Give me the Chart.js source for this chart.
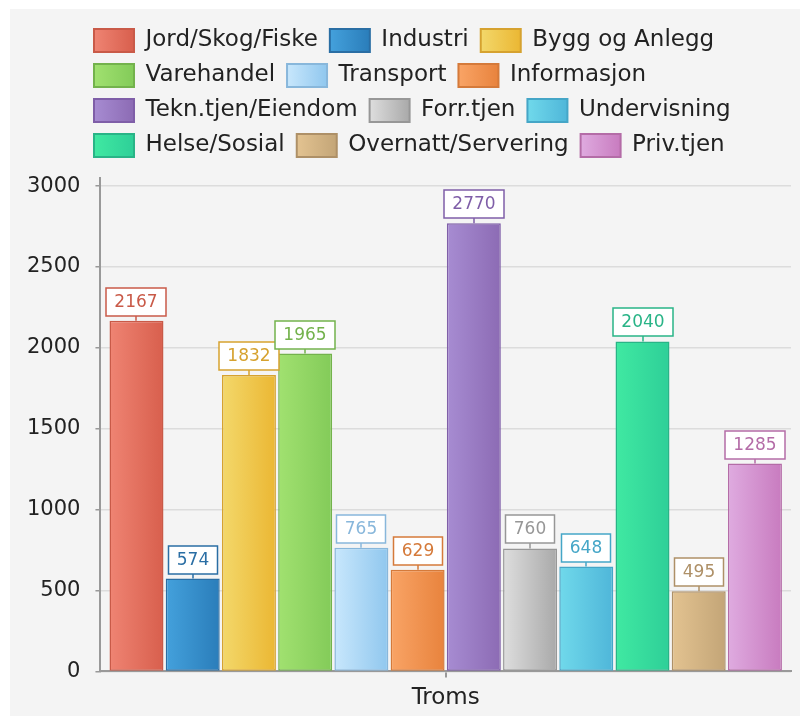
<!DOCTYPE html>
<html><head><meta charset="utf-8">
<script src="https://cdn.jsdelivr.net/npm/chart.js@4/dist/chart.umd.min.js"></script>
<style>
html,body{margin:0;padding:0;background:#fff;width:800px;height:716px;overflow:hidden}
#wrap{position:absolute;left:10px;top:9px;width:790px;height:707px;background:#f4f4f4}
canvas{display:block}
</style></head><body>
<div id="wrap"><canvas id="c" width="790" height="707"></canvas></div>
<script>
const categories = ['Troms'];
const seriesNames = ['Jord/Skog/Fiske', 'Industri', 'Bygg og Anlegg', 'Varehandel', 'Transport', 'Informasjon',
  'Tekn.tjen/Eiendom', 'Forr.tjen', 'Undervisning', 'Helse/Sosial', 'Overnatt/Servering', 'Priv.tjen'];
const seriesValues = [2167, 574, 1832, 1965, 765, 629, 2770, 760, 648, 2040, 495, 1285];
const yTickValues = [0, 500, 1000, 1500, 2000, 2500, 3000];
const colorsLight = ['#ef8473', '#44a1dc', '#f3d86b', '#a1e170', '#c8e7fc', '#f9a466', '#a78cd2', '#dedede', '#70d9eb', '#40e9a2', '#e3c391', '#dfabe0'];
const colorsDark  = ['#d85f4d', '#2a7dba', '#ebb733', '#83cb59', '#90c7ee', '#e8833d', '#8c6bb4', '#a9a9a9', '#4fb6d9', '#2ecf98', '#c3a577', '#c87bbf'];
const borderColors = ['#c95a48', '#2a6ea4', '#d6a22f', '#73b24c', '#88b7db', '#d57a3a', '#7f5ea8', '#979797', '#45a6c7', '#29b487', '#ae9067', '#b46ca7'];

const FONT = '"DejaVu Sans", Verdana, sans-serif';
const LEGEND_SHIFT = 11;

const datasets = seriesNames.map((name, i) => ({
  label: name,
  data: [seriesValues[i]],
  backgroundColor: colorsDark[i],
  borderColor: borderColors[i],
  borderWidth: 1.5,
  borderSkipped: false,
  categoryPercentage: 0.977,
  barPercentage: 0.96
}));

const stylePlugin = {
  id: 'stylePlugin',
  afterLayout(chart) {
    const lg = chart.legend;
    lg.left = 72;
    lg.top -= LEGEND_SHIFT;
    lg.bottom -= LEGEND_SHIFT;
  },
  beforeDraw(chart) {
    const ctx = chart.ctx;
    const lg = chart.legend;
    if (lg && lg.legendItems && lg.legendHitBoxes) {
      lg.legendItems.forEach((it, i) => {
        const hb = lg.legendHitBoxes[i];
        if (!hb) return;
        const di = it.datasetIndex;
        const g = ctx.createLinearGradient(hb.left, 0, hb.left + 40, 0);
        g.addColorStop(0, colorsLight[di]);
        g.addColorStop(1, colorsDark[di]);
        it.fillStyle = g;
        it.strokeStyle = borderColors[di];
        it.lineWidth = 2;
      });
    }
  },
  beforeDatasetsDraw(chart) {
    const ctx = chart.ctx;
    chart.data.datasets.forEach((ds, i) => {
      const meta = chart.getDatasetMeta(i);
      meta.data.forEach(el => {
        const g = ctx.createLinearGradient(el.x - el.width / 2, 0, el.x + el.width / 2, 0);
        g.addColorStop(0, colorsLight[i]);
        g.addColorStop(1, colorsDark[i]);
        el.options = Object.assign({}, el.options, { backgroundColor: g });
      });
    });
  },
  afterDatasetsDraw(chart) {
    const ctx = chart.ctx;
    ctx.save();
    ctx.font = '17px ' + FONT;
    ctx.textAlign = 'center';
    ctx.textBaseline = 'middle';
    chart.data.datasets.forEach((ds, i) => {
      const meta = chart.getDatasetMeta(i);
      meta.data.forEach((el, j) => {
        const txt = String(ds.data[j]);
        const w = Math.round(ctx.measureText(txt).width + 17);
        const h = 28, gap = 5;
        const x = Math.round(el.x);
        const bottom = Math.round(el.y) - gap;
        const top = bottom - h;
        ctx.strokeStyle = borderColors[i];
        ctx.lineWidth = 1.5;
        ctx.beginPath();
        ctx.moveTo(x, el.y);
        ctx.lineTo(x, bottom);
        ctx.stroke();
        ctx.fillStyle = '#ffffff';
        ctx.fillRect(x - w / 2, top, w, h);
        ctx.strokeRect(x - w / 2, top, w, h);
        ctx.fillStyle = borderColors[i];
        ctx.fillText(txt, x, top + h / 2 + 1);
      });
    });
    ctx.restore();
  }
};

new Chart(document.getElementById('c'), {
  type: 'bar',
  data: { labels: categories, datasets },
  plugins: [stylePlugin],
  options: {
    responsive: false,
    animation: false,
    devicePixelRatio: 1,
    layout: { padding: { left: 2, right: 9, top: 8 + LEGEND_SHIFT, bottom: -3 } },
    plugins: {
      tooltip: { enabled: false },
      legend: {
        position: 'top',
        align: 'start',
        labels: {
          boxWidth: 40,
          boxHeight: 23,
          padding: 12,
          color: '#222',
          font: { family: FONT, size: 23 }
        }
      }
    },
    scales: {
      x: {
        grid: { display: true, drawOnChartArea: false, offset: false, tickLength: 6, tickColor: '#999', lineWidth: 2 },
        border: { display: true, color: '#999', width: 2 },
        ticks: { color: '#222', padding: 7, font: { family: FONT, size: 23 } }
      },
      y: {
        min: 0,
        max: 3050,
        afterBuildTicks(scale) {
          scale.ticks = yTickValues.map(v => ({ value: v }));
        },
        grid: { color: '#dcdcdc', lineWidth: 1.5, tickLength: 5, tickColor: '#999' },
        border: { display: true, color: '#999', width: 2 },
        ticks: {
          stepSize: 500, color: '#222', padding: 15, font: { family: FONT, size: 21 },
          callback: (v) => String(v)
        }
      }
    }
  }
});
</script>
</body></html>
